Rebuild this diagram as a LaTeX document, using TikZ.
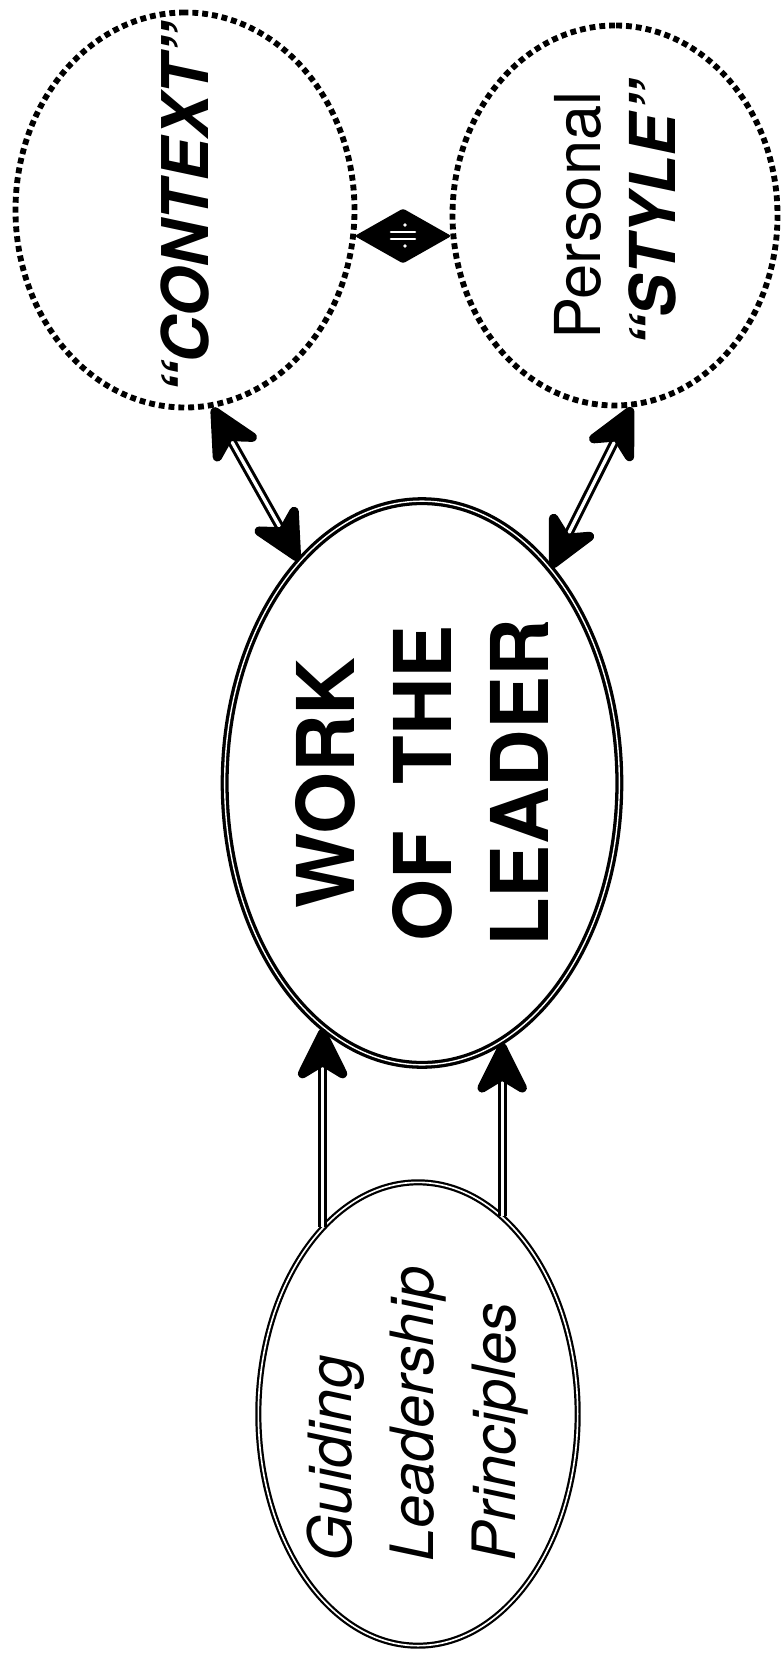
\documentclass[tikz,border=0pt]{standalone}
\usepackage{fontspec}
\setmainfont{TeX Gyre Heros}
\usepackage{tikz}
\usetikzlibrary{arrows.meta, positioning, shapes.geometric, calc}

% arrow head at #1, opening towards #2
\newcommand{\leadhead}[2]{%
  \filldraw[line join=round, line width=8pt]
    ($(#1)!4pt!(#2)$) -- ($(#1)!42pt!24:(#2)$) -- ($(#1)!28pt!(#2)$) -- ($(#1)!42pt!-24:(#2)$) -- cycle;}

\begin{document}
\begin{tikzpicture}[
  x=0.03cm, y=-0.03cm,
  core/.style={ellipse, draw, double, line width=2.8pt, double distance=1.2pt, rotate=90, inner sep=0pt, align=center},
  ring/.style={ellipse, draw, line width=5pt, dash pattern=on 5pt off 3.4pt, rotate=90, inner sep=0pt, align=center},
  root/.style={ellipse, draw, double, line width=1.9pt, double distance=1.4pt, rotate=90, inner sep=0pt, align=left},
  arr/.style={double, line width=2.6pt, double distance=2.8pt, shorten <=26pt, shorten >=26pt}
]
  \useasboundingbox (0,0) rectangle (781,1661);

  \node[core, minimum width=16.91cm, minimum height=11.84cm, font=\fontsize{68}{83}\selectfont\bfseries] (work) at (422,783) {WORK\\OF\hspace{0.3em} THE\\LEADER};
  \node[ring, minimum width=11.85cm, minimum height=10.17cm, font=\fontsize{55}{62}\selectfont\bfseries\itshape] (ctx) at (185,210) {\makebox[0pt]{“CONTEXT”}};
  \node[ring, minimum width=11.4cm, minimum height=9.75cm, font=\fontsize{54}{64}\selectfont] (sty) at (615,215.5) {\makebox[0pt]{Personal}\\\makebox[0pt]{\bfseries\itshape “STYLE”}};
  \node[root, minimum width=13.9cm, minimum height=9.58cm, font=\fontsize{51}{70}\selectfont\itshape] (guide) at (418,1414) {Guiding\\Leadership\\Principles};

  % balance between context and style
  \node[diamond, fill=black, minimum width=2.91cm, minimum height=1.65cm, inner sep=0pt, rounded corners=2pt] (link) at (403,236) {};
  \draw[white, line width=2.2pt, line cap=round] (link.center) ++(-12,-4) -- ++(24,0);
  \draw[white, line width=2.2pt, line cap=round] (link.center) ++(-12,3) -- ++(24,0);
  \fill[white] (link.center) ++(2,-11) circle (1.6pt);
  \fill[white] (link.center) ++(2,10) circle (1.6pt);

  % ends of the two straight feeds
  \coordinate (gl) at (guide.27);
  \coordinate (gr) at (guide.-23);
  \coordinate (wl) at (guide.27 |- work.158);
  \coordinate (wr) at (guide.-23 |- work.-163);

  \draw[arr] (ctx.-172) -- (work.29);
  \leadhead{ctx.-172}{work.29}
  \leadhead{work.29}{ctx.-172}
  \draw[arr] (sty.-175) -- (work.-31);
  \leadhead{sty.-175}{work.-31}
  \leadhead{work.-31}{sty.-175}
  \draw[arr, shorten <=0pt] (gl) -- (wl);
  \leadhead{wl}{gl}
  \draw[arr, shorten <=0pt] (gr) -- (wr);
  \leadhead{wr}{gr}
\end{tikzpicture}
\end{document}
